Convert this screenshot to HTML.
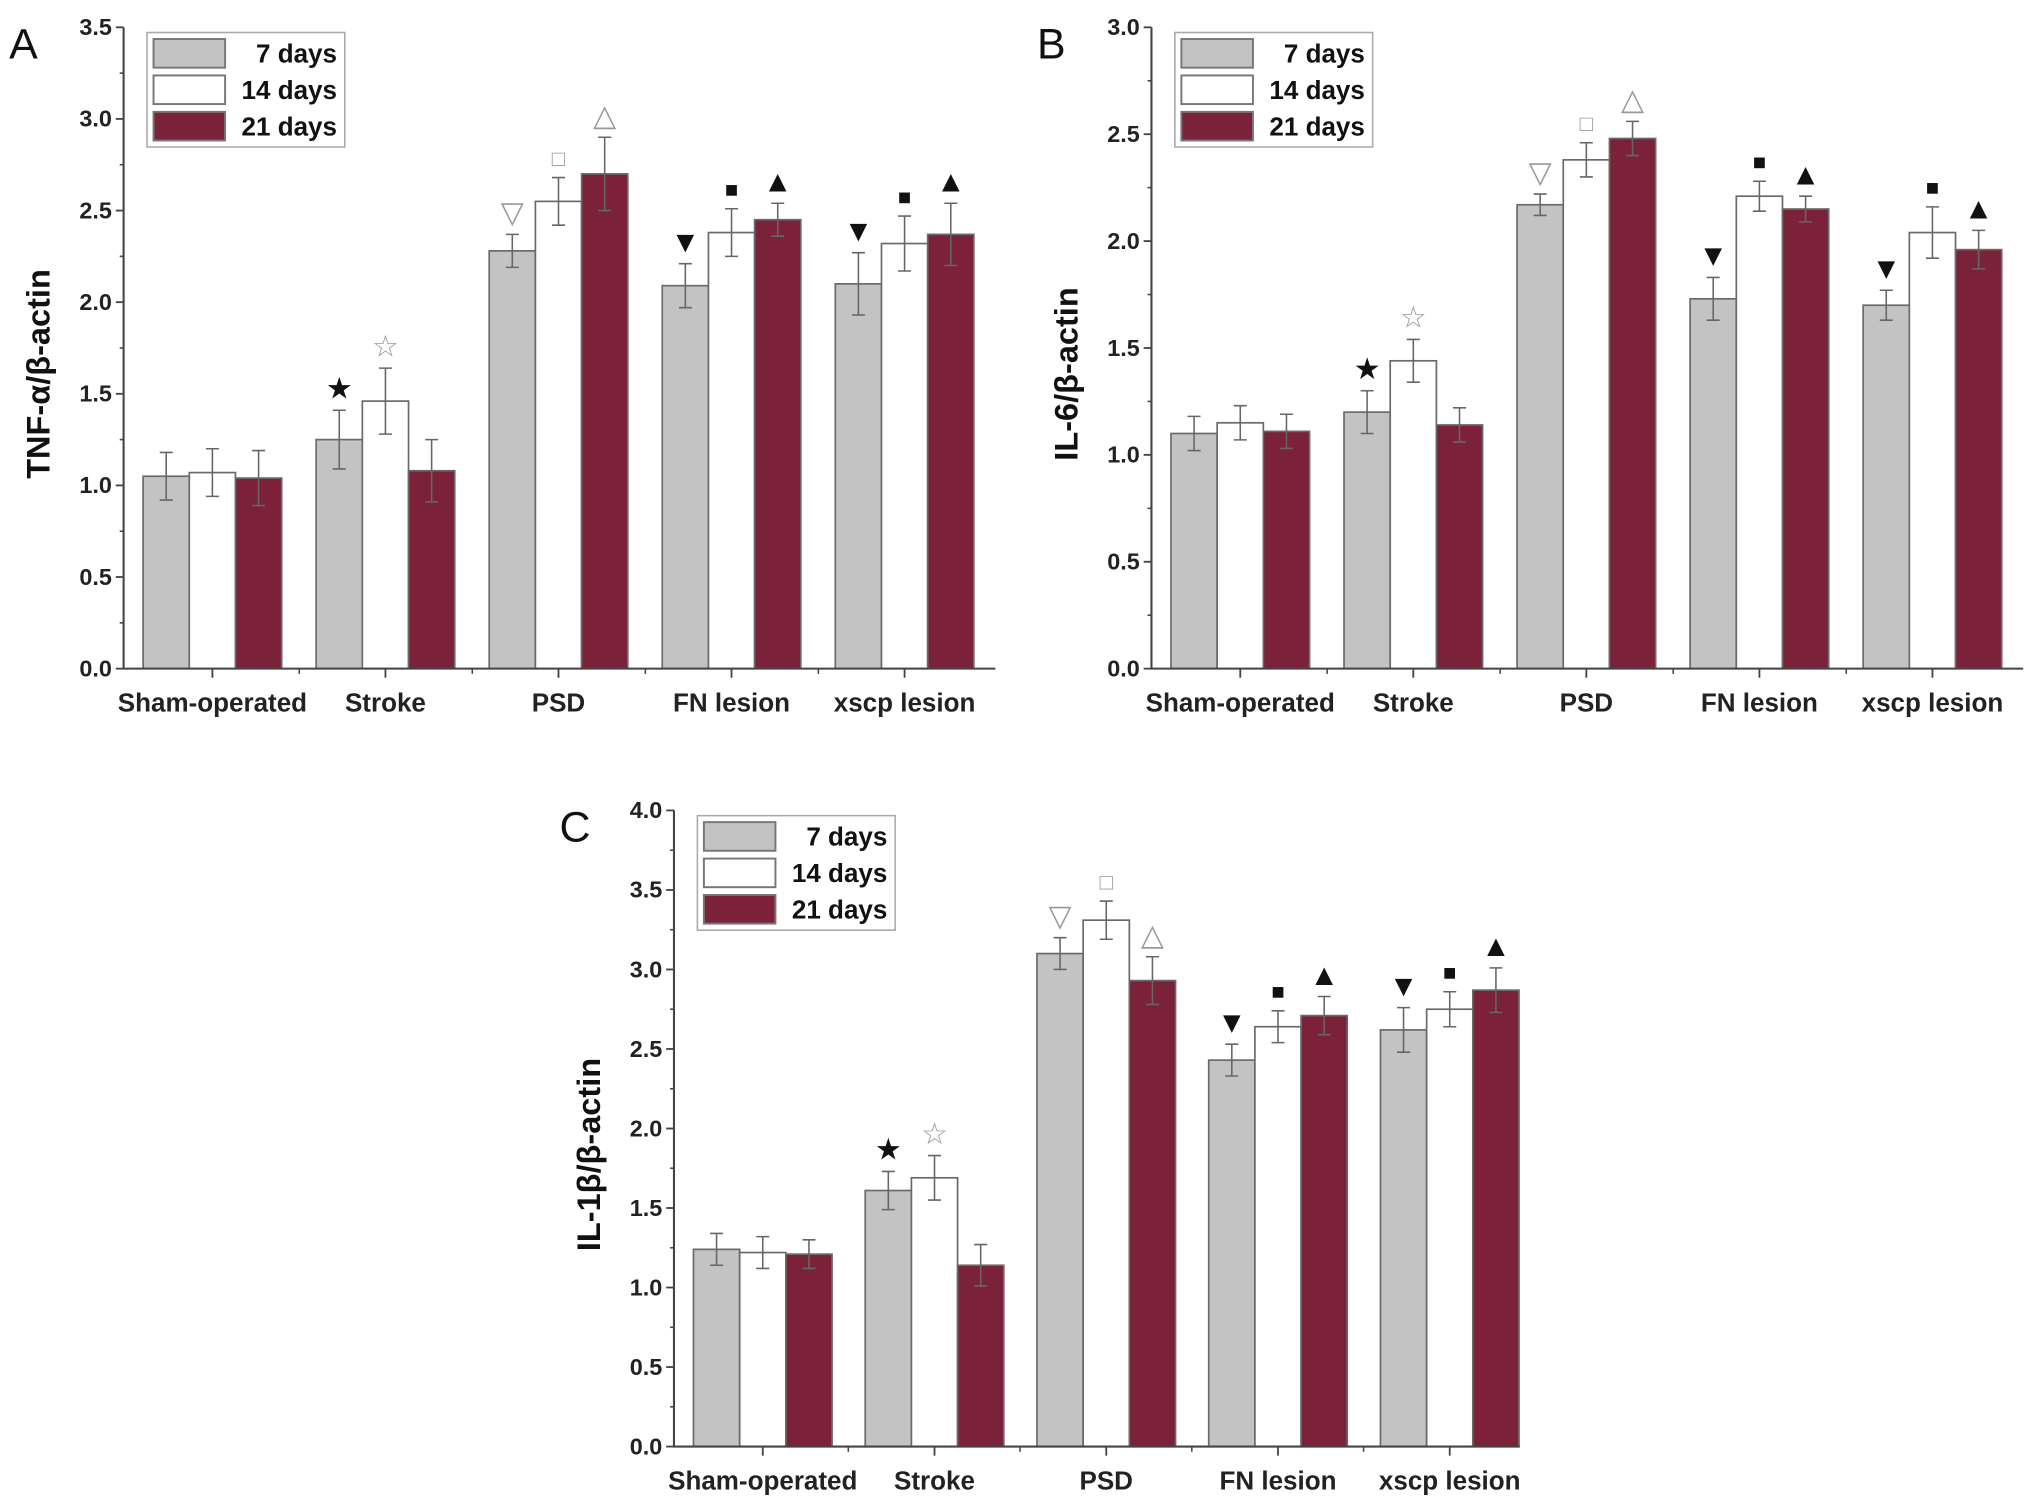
<!DOCTYPE html>
<html><head><meta charset="utf-8"><style>
html,body{margin:0;padding:0;background:#fff}
svg{display:block}
text{font-family:"Liberation Sans",Arial,sans-serif}
</style></head><body>
<svg id="fig" width="2031" height="1509" viewBox="0 0 1561 1160" preserveAspectRatio="none" xmlns="http://www.w3.org/2000/svg"></svg>
<script>
const categories = ["Sham-operated","Stroke","PSD","FN lesion","xscp lesion"];
const seriesNames = ["7 days","14 days","21 days"];
const tnfGray = [1.05,1.25,2.28,2.09,2.10];
const tnfWhite = [1.07,1.46,2.55,2.38,2.32];
const tnfRed = [1.04,1.08,2.70,2.45,2.37];
const tnfErrGray = [0.13,0.16,0.09,0.12,0.17];
const tnfErrWhite = [0.13,0.18,0.13,0.13,0.15];
const tnfErrRed = [0.15,0.17,0.20,0.09,0.17];
const il6Gray = [1.10,1.20,2.17,1.73,1.70];
const il6White = [1.15,1.44,2.38,2.21,2.04];
const il6Red = [1.11,1.14,2.48,2.15,1.96];
const il6ErrGray = [0.08,0.10,0.05,0.10,0.07];
const il6ErrWhite = [0.08,0.10,0.08,0.07,0.12];
const il6ErrRed = [0.08,0.08,0.08,0.06,0.09];
const il1Gray = [1.24,1.61,3.10,2.43,2.62];
const il1White = [1.22,1.69,3.31,2.64,2.75];
const il1Red = [1.21,1.14,2.93,2.71,2.87];
const il1ErrGray = [0.10,0.12,0.10,0.10,0.14];
const il1ErrWhite = [0.10,0.14,0.12,0.10,0.11];
const il1ErrRed = [0.09,0.13,0.15,0.12,0.14];
const ticksA = ["0.0","0.5","1.0","1.5","2.0","2.5","3.0","3.5"];
const ticksB = ["0.0","0.5","1.0","1.5","2.0","2.5","3.0"];
const ticksC = ["0.0","0.5","1.0","1.5","2.0","2.5","3.0","3.5","4.0"];
const marksGray = ["","★","▽","▼","▼"];
const marksWhite = ["","☆","□","■","■"];
const marksRed = ["","","△","▲","▲"];

const NS="http://www.w3.org/2000/svg";
const svg=document.getElementById('fig');
function mk(tag,attrs,parent,txt){const e=document.createElementNS(NS,tag);for(const k in attrs)e.setAttribute(k,attrs[k]);if(txt!==undefined)e.textContent=txt;(parent||svg).appendChild(e);return e;}
const fills=["#c3c3c3","#ffffff","#7b2139"];

function panel(id,letter,ylabel,ox,ex,y0,ytop,ymax,ticks,vals,errs,groupW){
  const g=mk('g',{});
  
  
  const ys=v=>y0-(v/ymax)*(y0-ytop);
  const bw=35.5;
  const gx=i=>ox+15+i*groupW;
  for(let s=0;s<3;s++){
    for(let i=0;i<5;i++){
      const v=vals[s][i], x=gx(i)+s*bw;
      const r=mk('rect',{x:x,y:ys(v),width:bw,height:y0-ys(v),fill:fills[s],stroke:'#6a6a6a','stroke-width':1.3},g);
      
      
      const e=errs[s][i], cx=x+bw/2;
      const eb=mk('path',{d:`M${cx},${ys(v+e)}V${ys(v-e)}M${cx-5},${ys(v+e)}H${cx+5}M${cx-5},${ys(v-e)}H${cx+5}`,stroke:'#666','stroke-width':1.2,fill:'none'},g);
      
      
      const m=[marksGray,marksWhite,marksRed][s][i];
      if(m){
        const t=mk('text',{x:cx,y:ys(v+e)-9,'font-size':(m==='■'||m==='□')?17:23,'text-anchor':'middle',fill:(m==='★'||m==='▼'||m==='■'||m==='▲')?'#111':'#999'},g,m);
        
        
      }
    }
  }
  const ax=mk('path',{d:`M${ox},${ytop}V${y0}H${ex}`,stroke:'#444','stroke-width':1.6,fill:'none'},g);
  
  
  ticks.forEach((t,k)=>{
    const v=parseFloat(t), y=ys(v);
    mk('line',{x1:ox-6,x2:ox,y1:y,y2:y,stroke:'#444','stroke-width':1.4},g);
    if(k<ticks.length-1){const ym=ys(v+0.25);mk('line',{x1:ox-3,x2:ox,y1:ym,y2:ym,stroke:'#444','stroke-width':1.2},g);}
    const tl=mk('text',{x:ox-9,y:y+6,'font-size':18,'font-weight':'bold','text-anchor':'end',fill:'#222'},g,t);
    
    
  });
  for(let i=0;i<5;i++){
    const cx=gx(i)+1.5*bw;
    mk('line',{x1:cx,x2:cx,y1:y0,y2:y0+7,stroke:'#444','stroke-width':1.4},g);
    if(i<4){const bx=ox+i*groupW+groupW+2;mk('line',{x1:bx,x2:bx,y1:y0,y2:y0+4,stroke:'#444','stroke-width':1.2},g);}
    const xl=mk('text',{x:cx,y:y0+33,'font-size':20,'font-weight':'bold','text-anchor':'middle',fill:'#222'},g,categories[i]);
    
    
  }
  const yl=mk('text',{x:0,y:0,'font-size':25,'font-weight':'bold','text-anchor':'middle',fill:'#111',transform:`translate(${ox-57},${(y0+ytop)/2+20}) rotate(-90)`},g,ylabel);
  
  
  const pl=mk('text',{x:ox-88,y:ytop+24,'font-size':33,fill:'#111'},g,letter);
  
  
  const lx=ox+18, ly=ytop+4;
  const lg=mk('g',{},g);
  
  
  mk('rect',{x:lx,y:ly,width:152,height:88,fill:'#fff',stroke:'#aaa','stroke-width':1.2},lg);
  seriesNames.forEach((n,s)=>{
    const le=mk('g',{},lg);
    
    
    mk('rect',{x:lx+5,y:ly+5+s*28,width:55,height:22,fill:fills[s],stroke:'#777','stroke-width':1.5},le);
    mk('text',{x:lx+146,y:ly+23+s*28,'font-size':20,'font-weight':'bold','text-anchor':'end',fill:'#111'},le,n);
  });
}
panel('a','A','TNF-α/β-actin',95,765,514,21,3.5,ticksA,[tnfGray,tnfWhite,tnfRed],[tnfErrGray,tnfErrWhite,tnfErrRed],133);
panel('b','B','IL-6/β-actin',885,1555,514,21,3.0,ticksB,[il6Gray,il6White,il6Red],[il6ErrGray,il6ErrWhite,il6ErrRed],133);
panel('c','C','IL-1β/β-actin',518,1168,1112,623,4.0,ticksC,[il1Gray,il1White,il1Red],[il1ErrGray,il1ErrWhite,il1ErrRed],132);
</script>
</body></html>
